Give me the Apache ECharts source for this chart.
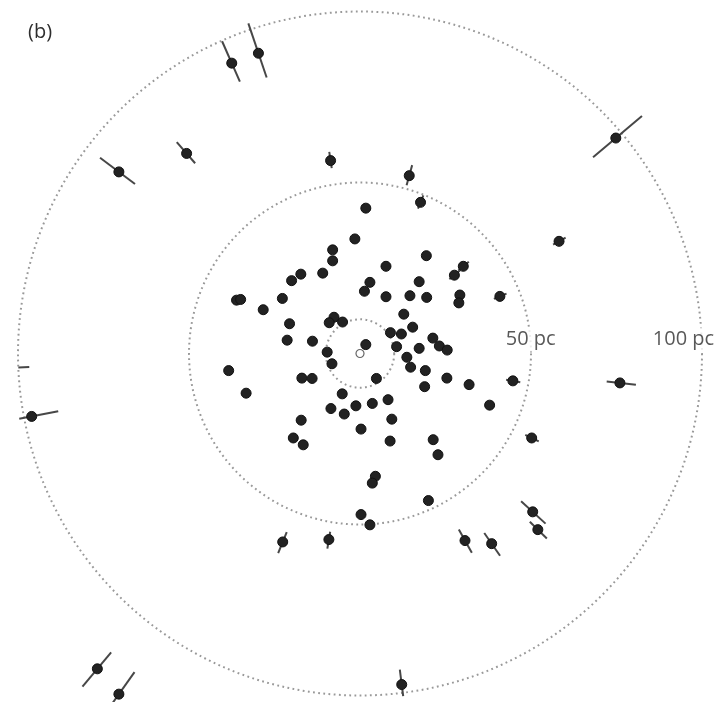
<!DOCTYPE html>
<html>
<head>
<meta charset="utf-8">
<script src="https://cdn.jsdelivr.net/npm/echarts@6/dist/echarts.min.js"></script>
<style>html,body{margin:0;padding:0;background:#fff}#chart{width:720px;height:702px}</style>
</head>
<body>
<div id="chart"></div>
<script>
// Panel label and ring distances (pc)
const panelLabel = '(b)';
const ringRadii = [10, 50, 100];
const ringLabelText = ['50 pc', '100 pc'];
const ringLabelX = [49.9, 94.6];
const ringLabelY = [4.1, 4.1];

// Sun (origin)
const sunX = [0];
const sunY = [0];

// Stars without visible error bars (x, y in pc)
const starX = [-1.5,-8.0,-8.0,-10.9,-17.3,-20.0,-36.1,-34.9,-22.7,-28.3,-20.6,-7.6,-9.0,-5.1,-21.3,-13.9,-9.6,-8.2,-38.4,-17.0,-14.0,-33.3,-5.2,-1.2,-8.5,-4.6,-17.2,0.3,-19.5,-16.6,
  19.4,7.6,2.9,17.3,1.3,7.6,14.6,19.5,29.2,28.9,12.8,15.4,8.9,12.1,1.7,10.7,21.3,17.3,23.2,25.5,13.7,14.8,19.1,4.8,25.4,18.9,31.9,8.2,3.6,37.9,9.3,8.8,21.4,22.8,4.5,3.6,20.0,0.3,2.9,1.7];
const starY = [33.5,30.3,27.1,23.5,23.2,21.3,15.6,15.8,16.1,12.8,8.7,10.6,9.0,9.2,3.9,3.6,0.4,-3.0,-5.0,-7.2,-7.3,-11.6,-11.8,-15.3,-16.1,-17.7,-19.5,-22.1,-24.7,-26.7,
  28.6,25.5,20.8,21.0,18.2,16.6,16.9,16.4,17.1,14.8,11.5,7.7,6.1,5.7,2.6,2.0,4.5,1.5,2.2,1.0,-1.1,-4.0,-5.0,-7.3,-7.2,-9.7,-9.1,-13.5,-14.6,-15.1,-19.2,-25.6,-25.2,-29.6,-35.9,-37.9,-43.0,-47.1,-50.1,42.5];

// Stars with radial distance error bars (x, y, minus, plus in pc)
const barX =     [-70.5,-37.5,-29.7,-50.7,-8.6,14.4,17.7,74.8,-96.0,58.2,76.0,-76.8,-70.5,-22.6,-9.1,30.7,38.5,50.5,52.0,12.2,30.2,27.6,40.9,44.7,50.2];
const barY =     [53.1,84.9,87.8,58.5,56.4,52.0,44.2,63.0,-18.4,32.8,-8.6,-92.2,-99.6,-55.1,-54.4,-54.7,-55.6,-46.3,-51.5,-96.8,25.5,22.9,16.7,-8.0,-24.7];
const barMinus = [5.9,5.9,7.5,3.8,2.2,2.9,2.0,8.7,7.9,2.0,3.9,6.3,7.9,3.1,2.3,3.7,3.8,4.6,3.3,4.4,1.9,1.9,1.9,2.0,2.1];
const barPlus =  [6.9,7.0,9.2,4.4,2.6,3.2,2.2,10.0,3.7,2.2,4.7,6.8,8.5,3.5,2.7,4.1,4.3,5.1,3.7,3.4,2.1,2.1,2.1,2.2,2.3];

// Lone error-bar fragment at the left edge (no visible star)
const fragX = [-98.3];
const fragY = [-4.0];
const fragMinus = [1.6];
const fragPlus = [1.6];

const PX_PER_PC = 3.42;
const W = 720, H = 702, CX = 360, CY = 353.5;

const chart = echarts.init(document.getElementById('chart'), null, {renderer: 'canvas'});

function barRender(params, api) {
  const x = api.value(0), y = api.value(1), em = api.value(2), ep = api.value(3);
  const r = Math.hypot(x, y);
  const ux = x / r, uy = y / r;
  const p1 = api.coord([x - ux * em, y - uy * em]);
  const p2 = api.coord([x + ux * ep, y + uy * ep]);
  return {
    type: 'line',
    shape: {x1: p1[0], y1: p1[1], x2: p2[0], y2: p2[1]},
    style: {stroke: '#474747', lineWidth: 2}
  };
}

const starData = starX.map((v, i) => [v, starY[i]]);
const barData = barX.map((v, i) => [v, barY[i], barMinus[i], barPlus[i]]);
const fragData = fragX.map((v, i) => [v, fragY[i], fragMinus[i], fragPlus[i]]);
const barStarData = barX.map((v, i) => [v, barY[i]]);

const starStyle = {color: '#222', borderColor: '#111', borderWidth: 1, opacity: 1};

const option = {
  backgroundColor: '#ffffff',
  animation: false,
  title: {
    text: panelLabel, left: 23, top: 17,
    textStyle: {fontFamily: 'Open Sans', fontSize: 20, fontWeight: 'normal', color: '#2e2e2e'}
  },
  grid: {left: 0, right: 0, top: 0, bottom: 0, containLabel: false},
  xAxis: {type: 'value', min: -CX / PX_PER_PC, max: (W - CX) / PX_PER_PC, show: false},
  yAxis: {type: 'value', min: -(H - CY) / PX_PER_PC, max: CY / PX_PER_PC, show: false},
  series: [
    {
      type: 'custom', clip: false, silent: true, z: 1,
      data: ringRadii.map(r => [0, 0, r]),
      renderItem: function (params, api) {
        const c = api.coord([api.value(0), api.value(1)]);
        const e = api.coord([api.value(0) + api.value(2), api.value(1)]);
        return {
          type: 'circle',
          shape: {cx: c[0], cy: c[1], r: e[0] - c[0]},
          style: {fill: null, stroke: '#999', lineWidth: 2, lineDash: [1.8, 3.4]}
        };
      }
    },
    {
      type: 'scatter', z: 2, symbolSize: 0, silent: true,
      data: ringLabelText.map((t, i) => ({value: [ringLabelX[i], ringLabelY[i]], name: t})),
      label: {
        show: true, position: 'inside', formatter: '{b}',
        fontFamily: 'Open Sans', fontSize: 20, color: '#2e2e2e',
        backgroundColor: '#fff', padding: [2, 2]
      }
    },
    {type: 'custom', clip: false, silent: true, z: 3, data: barData, renderItem: barRender},
    {type: 'custom', clip: false, silent: true, z: 3, data: fragData, renderItem: barRender},
    {
      type: 'scatter', z: 4, symbol: 'circle', symbolSize: 10, silent: true,
      itemStyle: starStyle, data: starData
    },
    {
      type: 'scatter', z: 4, symbol: 'circle', symbolSize: 10, silent: true,
      itemStyle: starStyle, data: barStarData
    },
    {
      type: 'scatter', z: 4, symbol: 'circle', symbolSize: 8, silent: true,
      itemStyle: {color: '#fff', borderColor: '#666', borderWidth: 1.2, opacity: 1},
      data: sunX.map((v, i) => [v, sunY[i]])
    }
  ]
};
chart.setOption(option);
</script>
</body>
</html>
